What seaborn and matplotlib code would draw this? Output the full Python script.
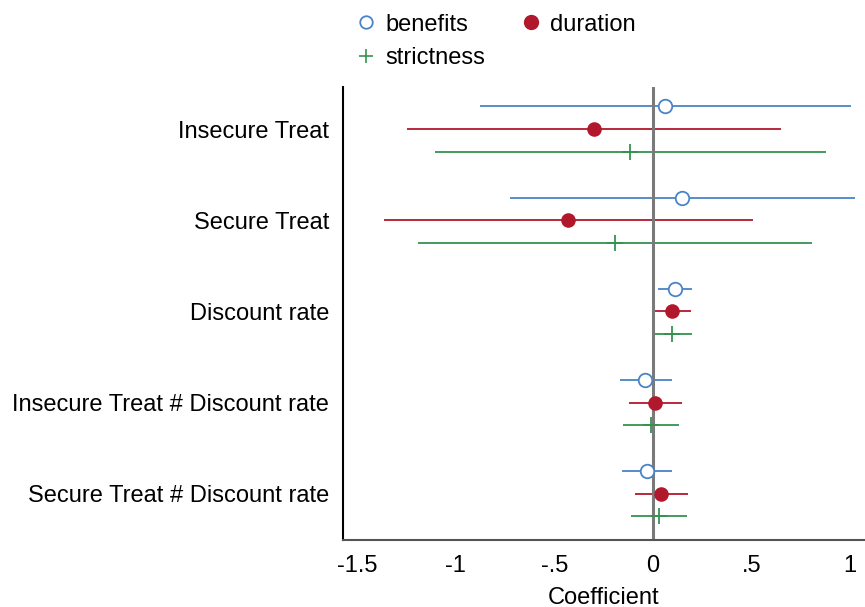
import numpy as np
import pandas as pd
import matplotlib.pyplot as plt
import seaborn as sns
from matplotlib.lines import Line2D

# -----------------------------
# Data
# -----------------------------
terms = ["Insecure Treat", "Secure Treat", "Discount rate",
         "Insecure Treat # Discount rate", "Secure Treat # Discount rate"]
models = ["benefits", "duration", "strictness"]

benefits_coef = [0.064, 0.146, 0.113, -0.038, -0.029]
benefits_lo = [-0.877, -0.722, 0.026, -0.167, -0.155]
benefits_hi = [1.006, 1.025, 0.201, 0.096, 0.096]

duration_coef = [-0.299, -0.430, 0.099, 0.013, 0.044]
duration_lo = [-1.247, -1.364, 0.004, -0.119, -0.089]
duration_hi = [0.651, 0.506, 0.195, 0.146, 0.178]

strictness_coef = [-0.116, -0.194, 0.099, -0.008, 0.031]
strictness_lo = [-1.106, -1.192, 0.001, -0.150, -0.109]
strictness_hi = [0.877, 0.809, 0.201, 0.132, 0.172]

xticks = [-1.5, -1, -0.5, 0, 0.5, 1]
xticklabels = ["-1.5", "-1", "-.5", "0", ".5", "1"]

# -----------------------------
# Long table
# -----------------------------
rows = []
series = {
    "benefits": (benefits_coef, benefits_lo, benefits_hi),
    "duration": (duration_coef, duration_lo, duration_hi),
    "strictness": (strictness_coef, strictness_lo, strictness_hi),
}
for m_i, m in enumerate(models):
    coef, lo, hi = series[m]
    for t_i, t in enumerate(terms):
        rows.append({"term": t, "model": m, "coef": coef[t_i], "lo": lo[t_i],
                     "hi": hi[t_i], "pos": t_i + (m_i - 1) * 0.25})
df = pd.DataFrame(rows)

colors = {"benefits": "#4a84c6", "duration": "#b2182b", "strictness": "#35924f"}

sns.set_theme(style="white")
plt.rcParams["font.family"] = ["Liberation Sans", "DejaVu Sans"]
plt.rcParams["text.color"] = "black"
plt.rcParams["axes.labelcolor"] = "black"

fig, ax = plt.subplots(figsize=(8.65, 6.07), dpi=100)
fig.subplots_adjust(left=0.3965, right=1.0, bottom=0.111, top=0.857)

ax.axvline(0, color="#7a7a7a", lw=2.2, zorder=2)

for m in models:
    sub = df[df["model"] == m]
    ax.hlines(sub["pos"], sub["lo"], sub["hi"], color=colors[m], lw=1.3, zorder=1)
    if m == "benefits":
        sns.scatterplot(data=sub, x="coef", y="pos", ax=ax, marker="o", s=95,
                        facecolor="white", edgecolor=colors[m], linewidth=1.3, zorder=3)
    elif m == "duration":
        sns.scatterplot(data=sub, x="coef", y="pos", ax=ax, marker="o", s=110,
                        color=colors[m], edgecolor=colors[m], linewidth=0, zorder=3)
    else:
        sns.scatterplot(data=sub, x="coef", y="pos", ax=ax, marker="+", s=140,
                        color=colors[m], linewidth=1.3, zorder=3)

ax.set_xlim(-1.571, 1.076)
ax.set_ylim(4.505, -0.465)
ax.set_yticks(range(len(terms)))
ax.set_yticklabels(terms)
ax.set_xticks(xticks)
ax.set_xticklabels(xticklabels)
ax.tick_params(axis="both", length=0, labelsize=17, colors="black")
ax.tick_params(axis="x", pad=11)
ax.tick_params(axis="y", pad=10)
ax.set_xlabel("Coefficient", fontsize=17, labelpad=7, color="black")
ax.set_ylabel("")

for side in ["top", "right"]:
    ax.spines[side].set_visible(False)
ax.spines["left"].set_color("black")
ax.spines["left"].set_linewidth(1.5)
ax.spines["bottom"].set_color("#555555")
ax.spines["bottom"].set_linewidth(1.5)

handles = [
    Line2D([], [], ls="none", marker="o", ms=9, mfc="white", mec=colors["benefits"],
           mew=1.3, label="benefits"),
    Line2D([], [], ls="none", marker="+", ms=10, color=colors["strictness"],
           mew=1.2, label="strictness"),
    Line2D([], [], ls="none", marker="o", ms=10, color=colors["duration"],
           label="duration"),
]
leg = fig.legend(handles=handles, loc="upper left", bbox_to_anchor=(0.396, 0.997),
                 ncol=2, frameon=False, fontsize=17, handlelength=1.0,
                 handletextpad=0.3, columnspacing=1.45, borderpad=0, labelspacing=0.48)
for txt in leg.get_texts():
    txt.set_color("black")

plt.savefig("out.png", dpi=100)
plt.close()
